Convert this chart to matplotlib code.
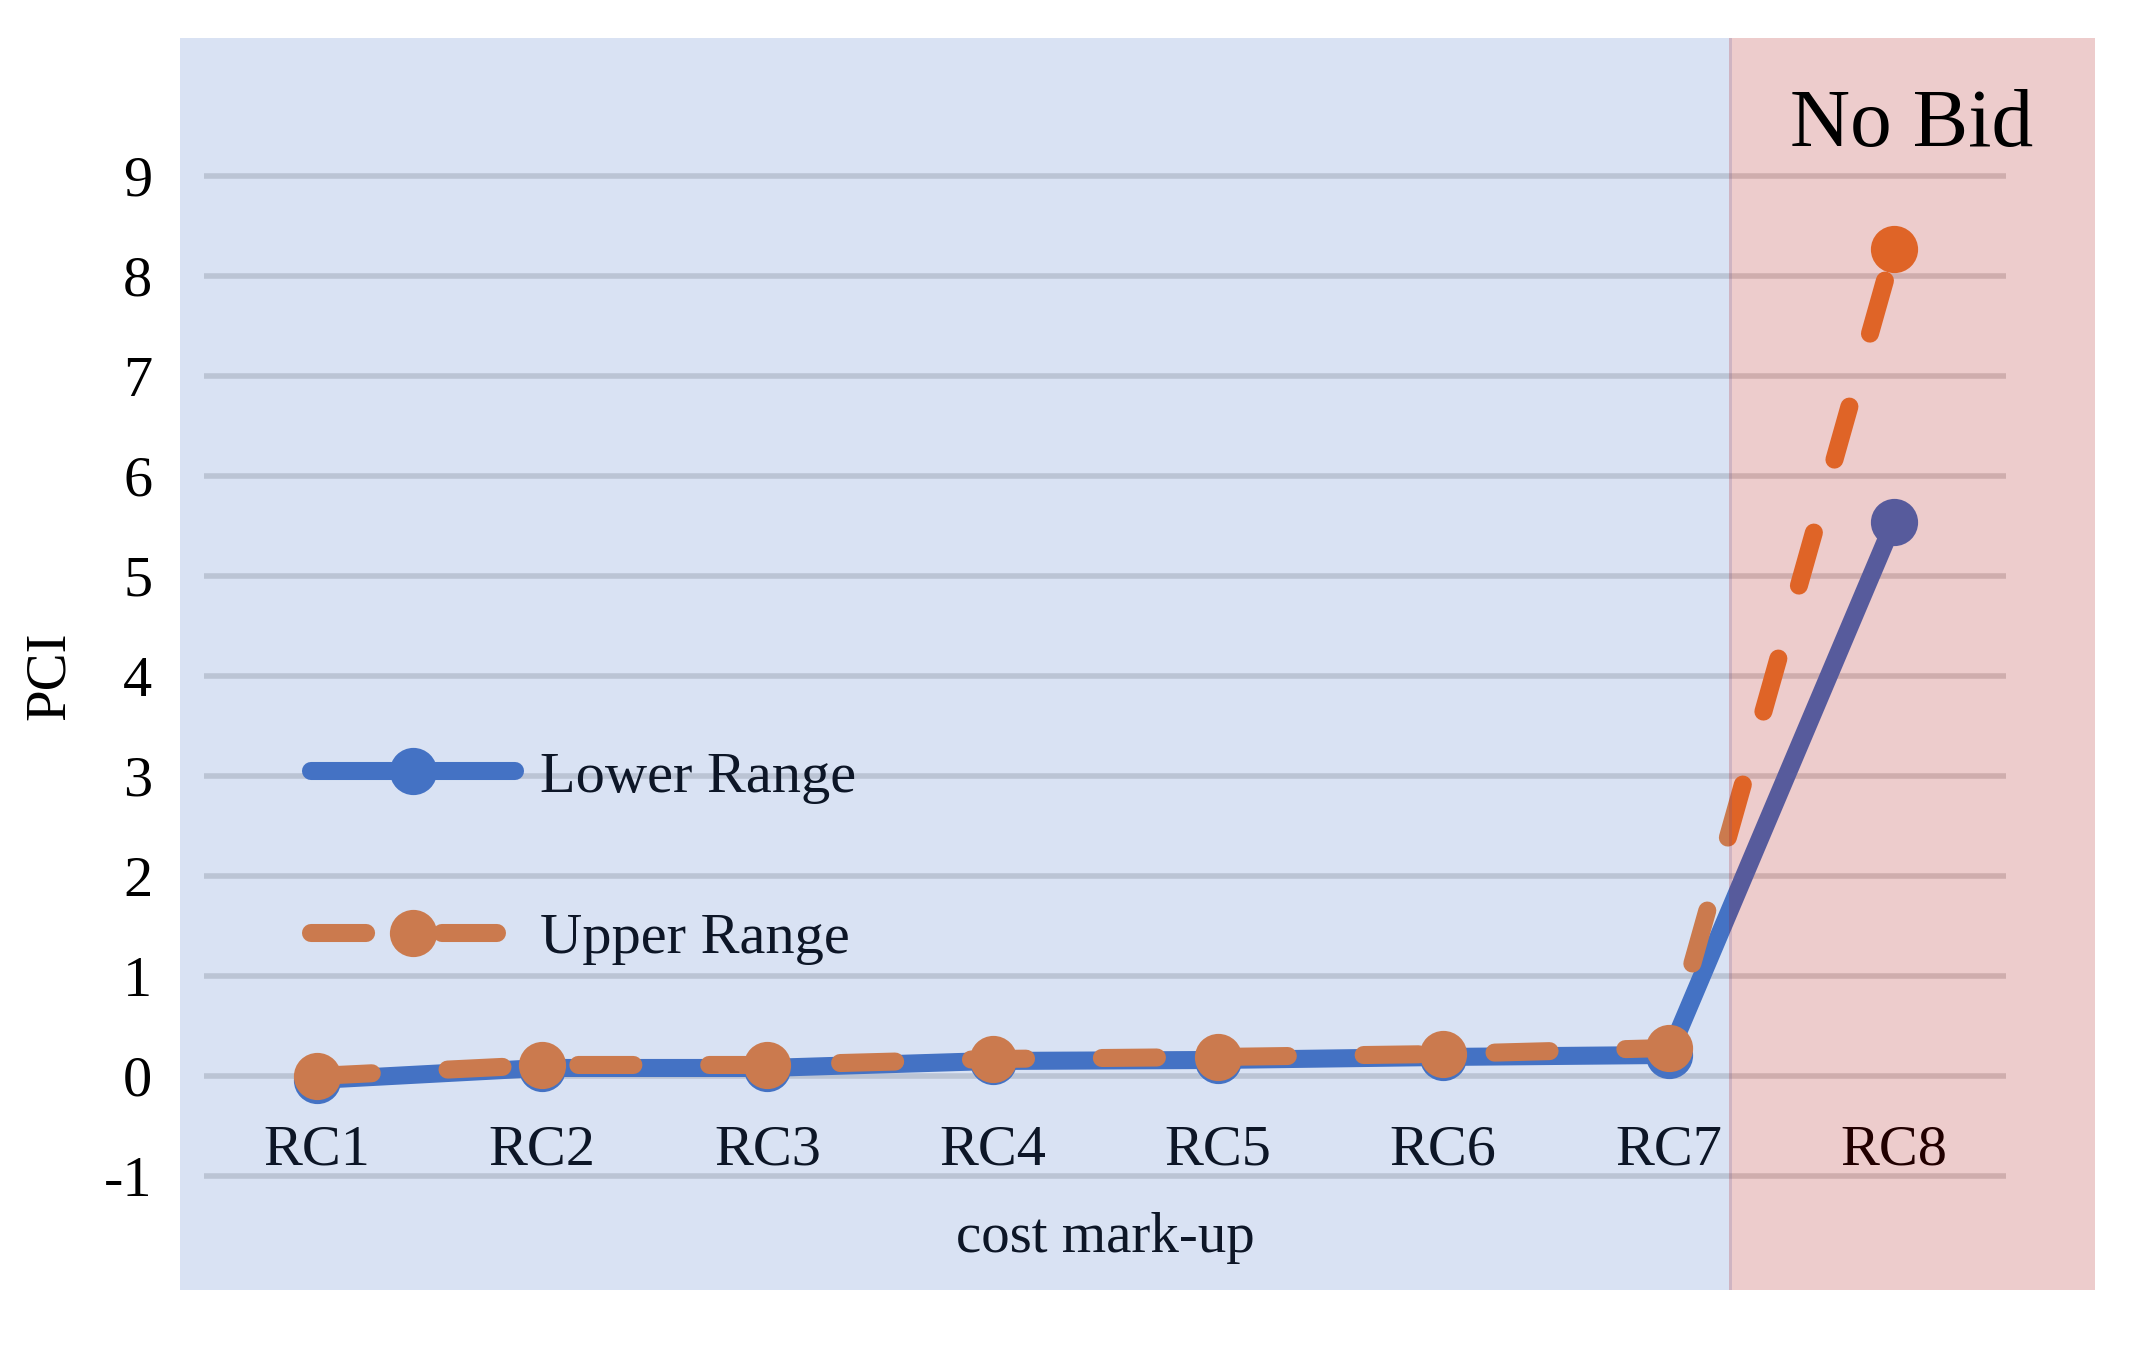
import matplotlib.pyplot as plt

plt.rcParams['font.family'] = ['Liberation Serif', 'DejaVu Serif']
plt.rcParams['axes.unicode_minus'] = False

categories = ['RC1', 'RC2', 'RC3', 'RC4', 'RC5', 'RC6', 'RC7', 'RC8']
lower_range = [-0.04, 0.08, 0.08, 0.15, 0.16, 0.19, 0.21, 5.54]
upper_range = [0.0, 0.11, 0.11, 0.17, 0.19, 0.22, 0.28, 8.27]
y_ticks = [-1, 0, 1, 2, 3, 4, 5, 6, 7, 8, 9]
no_bid_start = 6.275  # shaded "No Bid" zone starts between RC7 and RC8

BLUE = '#4472C4'
ORANGE = '#ED7D31'
GRID = '#D9D9D9'
XLIM = (-0.607, 7.893)
YLIM = (-2.14, 10.38)

fig = plt.figure(figsize=(21.33, 13.56), dpi=100)
ax = fig.add_axes([0.0844, 0.0487, 0.8978, 0.9233])
ax.patch.set_alpha(0)
x = list(range(len(categories)))

# grid lines only over the category area
ax.hlines(y_ticks, -0.5, len(categories) - 0.5, color=GRID, lw=4, zorder=1)

ax.plot(x, lower_range, color=BLUE, lw=13, marker='o', ms=34, mew=0,
        solid_capstyle='round', solid_joinstyle='round',
        label='Lower Range', zorder=3)
ax.plot(x, upper_range, color=ORANGE, lw=13, ls=(0, (3.05, 4.2)), marker='o', ms=34, mew=0,
        dash_capstyle='round', dash_joinstyle='round',
        label='Upper Range', zorder=4)

for i, c in enumerate(categories):
    ax.text(i, -0.886, c, ha='center', va='baseline', fontsize=42, zorder=3)
ax.text((len(categories) - 1) / 2, -1.76, 'cost mark-up', ha='center', va='baseline',
        fontsize=41, zorder=3)

leg = ax.legend(loc='center left', bbox_to_anchor=(0.0684, 0.345), frameon=False,
                fontsize=42, handlelength=3.5, handletextpad=0.43, labelspacing=1.86,
                borderpad=0, borderaxespad=0, numpoints=1)
leg.set_zorder(5)

# translucent overlays drawn on top of everything (tints lines + text)
ax.axvspan(XLIM[0], no_bid_start + 0.006, color=BLUE, alpha=0.2, lw=0, zorder=6)
ax.axvspan(no_bid_start - 0.006, XLIM[1], color='#A80000', alpha=0.2, lw=0, zorder=6)

ax.text(7.08, 9.30, 'No Bid', fontsize=60, ha='center', va='baseline', zorder=10)

ax.set_xlim(*XLIM)
ax.set_ylim(*YLIM)
ax.set_yticks(y_ticks)
ax.set_xticks([])
ax.tick_params(axis='y', length=0, pad=20, labelsize=42)
for s in ax.spines.values():
    s.set_visible(False)

fig.text(50 / 2133, 1 - 676 / 1356, 'PCI', rotation=90, ha='center', va='center', fontsize=41)

fig.savefig('out.png', dpi=100)
